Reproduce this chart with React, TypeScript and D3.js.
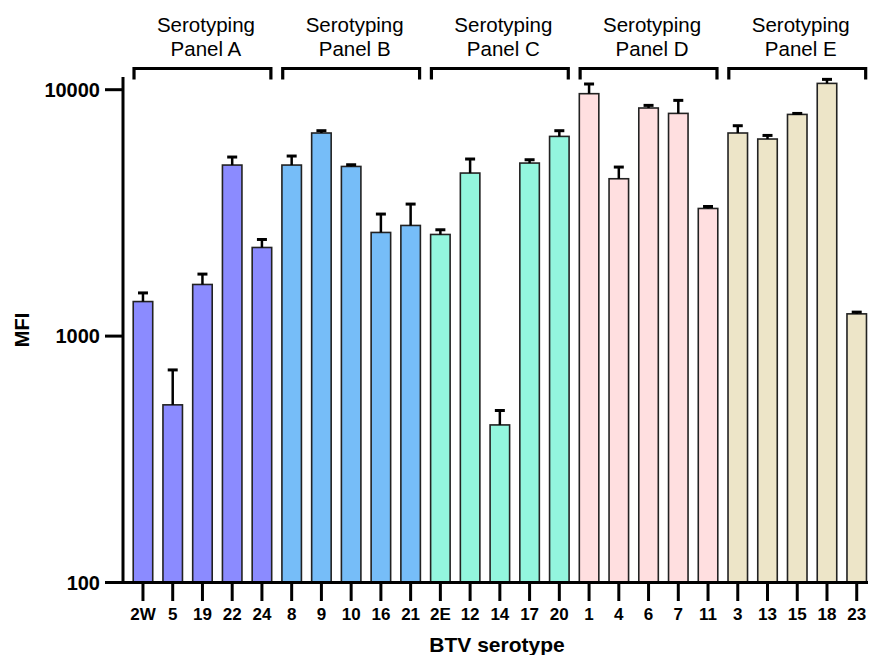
import * as d3 from "d3";

const W = 872;
const H = 655;

// BTV serotypes, grouped by serotyping panel
const serotypes = ["2W", "5", "19", "22", "24", "8", "9", "10", "16", "21", "2E", "12", "14", "17", "20", "1", "4", "6", "7", "11", "3", "13", "15", "18", "23"];
const panelOf = ["A", "A", "A", "A", "A", "B", "B", "B", "B", "B", "C", "C", "C", "C", "C", "D", "D", "D", "D", "D", "E", "E", "E", "E", "E"];
const mfi = [1381, 526, 1620, 4945, 2289, 4945, 6672, 4881, 2634, 2812, 2585, 4589, 436, 5038, 6463, 9634, 4351, 8428, 8013, 3296, 6672, 6307, 7937, 10607, 1231];
const sd = [116, 203, 165, 385, 178, 435, 145, 78, 494, 622, 116, 643, 63, 159, 354, 913, 502, 209, 1038, 62, 470, 215, 73, 406, 20];

const panels = ["A", "B", "C", "D", "E"];
const panelColors = ["#8b8bff", "#76bdf8", "#93f6de", "#ffdfe0", "#ede5c8"];
const yTicks = [100, 1000, 10000];

const FONT = "'Liberation Sans', Arial, Helvetica, sans-serif";

export default function App() {
  const x = d3
    .scaleBand<string>()
    .domain(serotypes)
    .range([128.1, 871.6])
    .paddingInner(0.344)
    .paddingOuter(0.172);
  const y = d3.scaleLog().domain([100, 11260]).range([582.5, 77]);
  const color = d3.scaleOrdinal<string, string>().domain(panels).range(panelColors);

  const bw = x.bandwidth();
  const axisX = 123;
  const axisY = y(100);

  return (
    <svg
      width={W}
      height={H}
      style={{ position: "absolute", left: 0, top: 0, background: "#fff" }}
      fontFamily={FONT}
    >
      {/* bars */}
      {serotypes.map((s, i) => (
        <rect
          key={s}
          x={x(s)}
          y={y(mfi[i])}
          width={bw}
          height={axisY - y(mfi[i])}
          fill={color(panelOf[i])}
          stroke="#222"
          strokeWidth={1.6}
        />
      ))}

      {/* error bars (upper only) */}
      {serotypes.map((s, i) => {
        const cx = (x(s) ?? 0) + bw / 2;
        const top = y(mfi[i] + sd[i]);
        return (
          <g key={"e" + s} stroke="#000">
            <line x1={cx} x2={cx} y1={y(mfi[i])} y2={top} strokeWidth={2.5} />
            <line x1={cx - 5} x2={cx + 5} y1={top} y2={top} strokeWidth={3} />
          </g>
        );
      })}

      {/* y axis */}
      <line x1={axisX} x2={axisX} y1={77} y2={axisY + 1.5} stroke="#000" strokeWidth={3} />
      {yTicks.map((t) => (
        <g key={t}>
          <line x1={105} x2={axisX} y1={y(t)} y2={y(t)} stroke="#000" strokeWidth={3} />
          <text
            x={100}
            y={y(t)}
            dy="0.36em"
            textAnchor="end"
            fontSize={20}
            fontWeight="bold"
          >
            {t}
          </text>
        </g>
      ))}
      <text
        transform={`translate(29,330) rotate(-90)`}
        textAnchor="middle"
        fontSize={20}
        fontWeight="bold"
      >
        MFI
      </text>

      {/* x axis */}
      <line x1={axisX - 1.5} x2={868} y1={axisY} y2={axisY} stroke="#000" strokeWidth={3} />
      {serotypes.map((s) => {
        const cx = (x(s) ?? 0) + bw / 2;
        return (
          <g key={"t" + s}>
            <line x1={cx} x2={cx} y1={axisY} y2={601} stroke="#000" strokeWidth={3} />
            <text x={cx} y={620} textAnchor="middle" fontSize={17} fontWeight="bold">
              {s}
            </text>
          </g>
        );
      })}
      <text x={497} y={652} textAnchor="middle" fontSize={21} fontWeight="bold">
        BTV serotype
      </text>

      {/* panel brackets */}
      {panels.map((p) => {
        const members = serotypes.filter((_, i) => panelOf[i] === p);
        const x0 = (x(members[0]) ?? 0) + 0.8;
        const x1 = (x(members[members.length - 1]) ?? 0) + bw - 0.8;
        const mid = (x0 + x1) / 2 + 3.5;
        return (
          <g key={"p" + p}>
            <path
              d={`M${x0},79.5 V68.5 H${x1} V79.5`}
              fill="none"
              stroke="#000"
              strokeWidth={3.2}
            />
            <text x={mid} y={32} textAnchor="middle" fontSize={20.5}>
              Serotyping
            </text>
            <text x={mid} y={56} textAnchor="middle" fontSize={20.5}>
              Panel {p}
            </text>
          </g>
        );
      })}
    </svg>
  );
}
